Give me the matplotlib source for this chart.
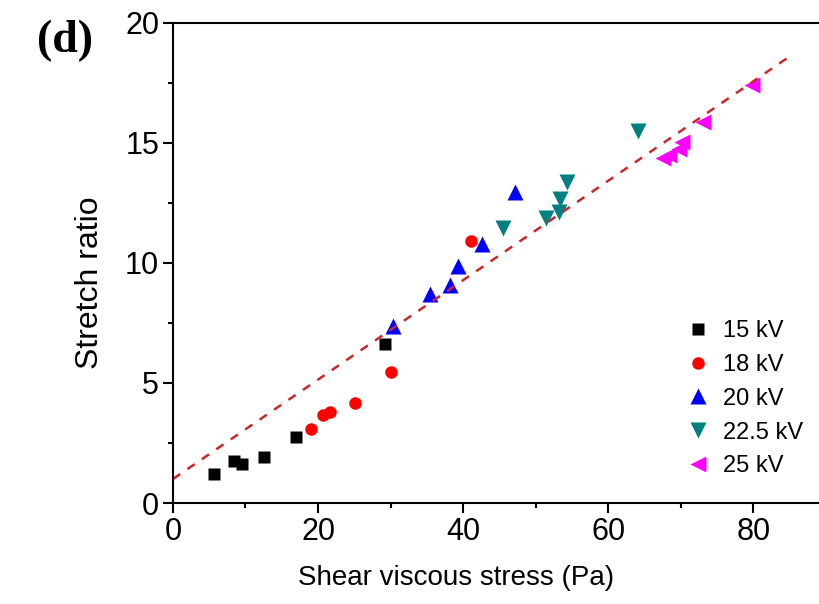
import numpy as np
import matplotlib.pyplot as plt
from matplotlib.ticker import MultipleLocator

plt.rcParams['font.family'] = ['Liberation Sans', 'DejaVu Sans']

# data
x_15 = [5.7, 8.4, 9.5, 12.5, 16.9, 29.3]
y_15 = [1.20, 1.74, 1.63, 1.93, 2.76, 6.61]

x_18 = [19.1, 20.7, 21.6, 25.1, 30.1, 41.1]
y_18 = [3.10, 3.67, 3.80, 4.18, 5.46, 10.90]

x_20 = [30.3, 35.4, 38.2, 39.3, 42.6, 47.2]
y_20 = [7.37, 8.71, 9.08, 9.88, 10.80, 12.95]

x_225 = [45.5, 51.5, 53.2, 53.4, 54.3, 64.1]
y_225 = [11.45, 11.86, 12.14, 12.65, 13.35, 15.50]

x_25 = [67.6, 68.4, 69.8, 70.2, 73.1, 79.8]
y_25 = [14.35, 14.50, 14.75, 15.05, 15.85, 17.40]

# linear fit line
fit_x = [0, 85]
fit_intercept = 1.0
fit_slope = 0.207

fig = plt.figure(figsize=(8.19, 6.04), dpi=100)
ax = fig.add_axes([0.2112, 0.1672, 0.797, 0.795])

ax.plot(x_15, y_15, 's', color='black', ms=8.5, mec='none', label='15 kV')
ax.plot(x_18, y_18, 'o', color='#ff0000', ms=9, mec='none', label='18 kV')
ax.plot(x_20, y_20, '^', color='#0000ff', ms=11, mec='none', label='20 kV')
ax.plot(x_225, y_225, 'v', color='#008080', ms=11, mec='none', label='22.5 kV')
ax.plot(x_25, y_25, '<', color='#ff00ff', ms=11, mec='none', label='25 kV')

fx = np.array(fit_x)
ax.plot(fx, fit_intercept + fit_slope * fx, '--', color='#c82828', lw=1.8,
        dashes=(3.5, 3.5))

ax.set_xlim(0, 90)
ax.set_ylim(0, 20)
ax.xaxis.set_major_locator(MultipleLocator(20))
ax.xaxis.set_minor_locator(MultipleLocator(10))
ax.yaxis.set_major_locator(MultipleLocator(5))
ax.yaxis.set_minor_locator(MultipleLocator(2.5))

for s in ['left', 'bottom', 'top', 'right']:
    ax.spines[s].set_linewidth(1.5)
ax.tick_params(which='major', direction='out', length=7, width=1.5,
               labelsize=22, top=False, right=False, pad=3)
ax.tick_params(which='minor', direction='out', length=3.5, width=1.5,
               top=False, right=False)

ax.set_xlabel('Shear viscous stress (Pa)', fontsize=20)
ax.set_ylabel('Stretch ratio', fontsize=23)
ax.xaxis.set_label_coords(0.434, -0.13)
ax.yaxis.set_label_coords(-0.104, 0.458)

ax.legend(loc='upper left', bbox_to_anchor=(0.839, 0.47),
          bbox_transform=fig.transFigure, frameon=False, fontsize=17,
          borderpad=0, borderaxespad=0,
          handlelength=0.9, handletextpad=0.6, labelspacing=0.5)

fig.text(0.045, 0.968, '(d)', fontsize=33, fontweight='bold', va='top',
         family='Liberation Serif')

fig.savefig('out.png', dpi=100)
